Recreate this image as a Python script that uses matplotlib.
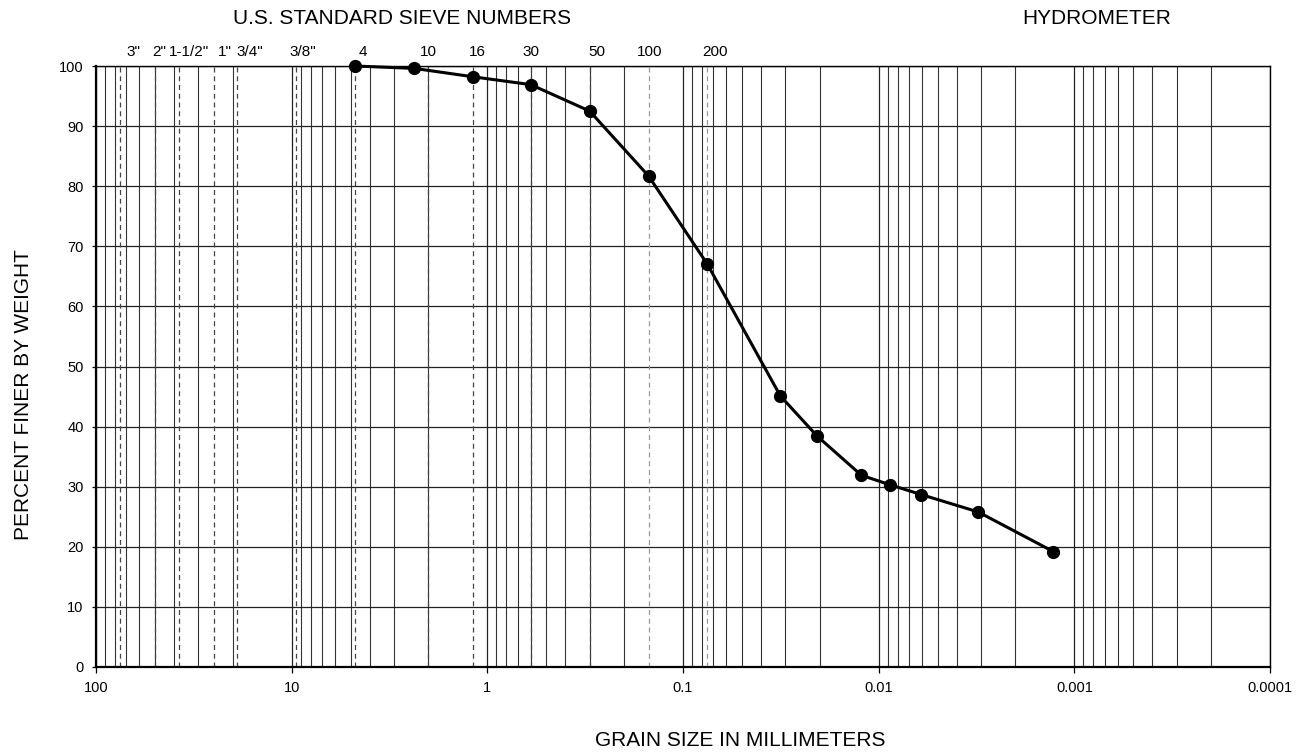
import matplotlib
matplotlib.use("Agg")
import matplotlib.pyplot as plt
from matplotlib.ticker import FixedLocator, FixedFormatter, LogLocator, NullFormatter

plt.rcParams['font.family'] = ['Liberation Sans', 'DejaVu Sans']

# ---- data ----
grain_size_mm = [4.75, 2.36, 1.18, 0.6, 0.3, 0.15, 0.075,
                 0.0318, 0.0206, 0.01225, 0.00871, 0.00607, 0.0031, 0.00128]
percent_finer = [100.0, 99.6, 98.2, 96.9, 92.5, 81.7, 67.0,
                 45.1, 38.4, 31.9, 30.3, 28.7, 25.8, 19.2]

sieve_labels = ['3"', '2"', '1-1/2"', '1"', '3/4"', '3/8"', '4', '10', '16', '30', '50', '100', '200']
sieve_sizes_mm = [75, 50, 37.5, 25, 19, 9.5, 4.75, 2.0, 1.18, 0.6, 0.3, 0.15, 0.075]

x_ticks = [100, 10, 1, 0.1, 0.01, 0.001, 0.0001]
x_tick_labels = ['100', '10', '1', '0.1', '0.01', '0.001', '0.0001']
y_ticks = [0, 10, 20, 30, 40, 50, 60, 70, 80, 90, 100]

# label nudges (pixels) for the sieve labels, layout only
label_nudge_px = [13, 4, 10, 11, 13, 7, 8, 0, 4, 0, 7, 1, 8]

# ---- figure ----
fig = plt.figure(figsize=(13.04, 7.52), dpi=100)
ax = fig.add_axes([96 / 1304, 1 - 667 / 752, (1270 - 96) / 1304, (667 - 66) / 752])

ax.set_xscale('log')
ax.set_xlim(100, 0.0001)
ax.set_ylim(0, 100)

ax.xaxis.set_major_locator(FixedLocator(x_ticks))
ax.xaxis.set_major_formatter(FixedFormatter(x_tick_labels))
ax.xaxis.set_minor_locator(LogLocator(base=10, subs=range(2, 10), numticks=50))
ax.xaxis.set_minor_formatter(NullFormatter())
ax.yaxis.set_major_locator(FixedLocator(y_ticks))

ax.grid(which='major', axis='both', color='#222222', linewidth=0.9)
ax.grid(which='minor', axis='x', color='#333333', linewidth=0.8)
ax.set_axisbelow(True)

ax.tick_params(axis='x', which='major', direction='out', length=4, width=0.9, labelsize=10.5, pad=6)
ax.tick_params(axis='x', which='minor', length=0)
ax.tick_params(axis='y', which='major', direction='out', length=3, width=0.9, labelsize=10.5, pad=6)

for s in ax.spines.values():
    s.set_color('black')
    s.set_linewidth(1.0)
ax.spines['bottom'].set_linewidth(1.6)
ax.spines['left'].set_linewidth(1.6)

# sieve dashed lines and labels
for lab, size, nd in zip(sieve_labels, sieve_sizes_mm, label_nudge_px):
    col = '#999999' if size in (0.15, 0.075) else '#444444'
    ax.axvline(size, color=col, linewidth=0.9, linestyle=(0, (4, 3)), zorder=1.5)
    ax.annotate(lab, xy=(size, 1.0), xycoords=('data', 'axes fraction'),
                xytext=(nd * 72 / 100, 5), textcoords='offset points',
                ha='center', va='bottom', fontsize=11, annotation_clip=False)

# data
ax.plot(grain_size_mm, percent_finer, color='black', linewidth=2.2,
        marker='o', markersize=8.5, markerfacecolor='black', markeredgecolor='black',
        zorder=5, clip_on=False)

# titles / axis labels
fig.text(402 / 1304, 1 - 19 / 752, 'U.S. STANDARD SIEVE NUMBERS', ha='center', va='center', fontsize=15)
fig.text(1097 / 1304, 1 - 19 / 752, 'HYDROMETER', ha='center', va='center', fontsize=15)
fig.text(740 / 1304, 1 - 740 / 752, 'GRAIN SIZE IN MILLIMETERS', ha='center', va='center', fontsize=15)
fig.text(24 / 1304, 1 - 395 / 752, 'PERCENT FINER BY WEIGHT', ha='center', va='center',
         rotation=90, fontsize=15)

fig.savefig('out.png', dpi=100)
